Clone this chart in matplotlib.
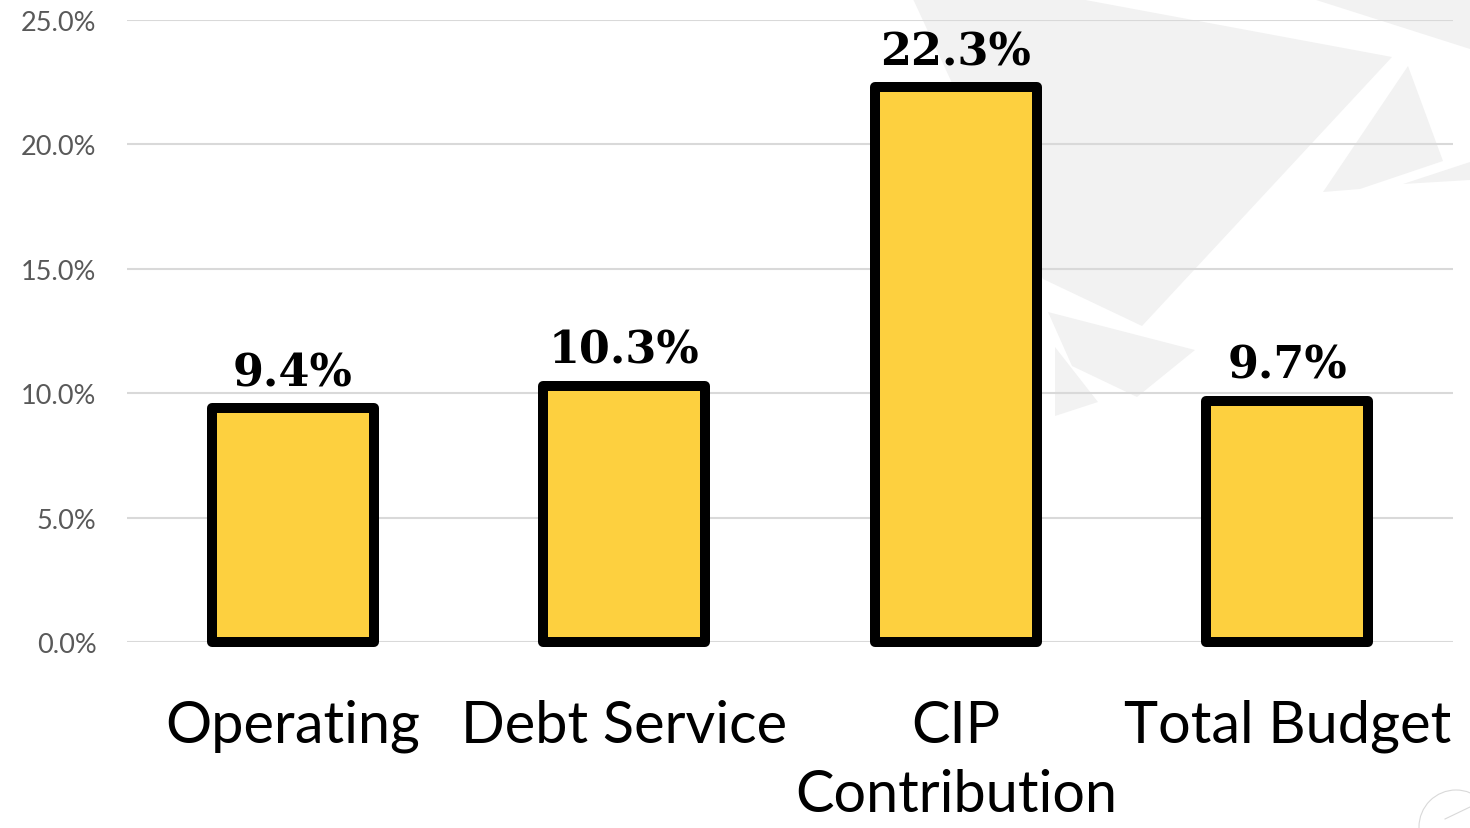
import matplotlib
matplotlib.use("Agg")
import matplotlib.pyplot as plt
from matplotlib.patches import Polygon, Circle
from matplotlib.ticker import FuncFormatter

categories = ["Operating", "Debt Service", "CIP\nContribution", "Total Budget"]
values = [9.4, 10.3, 22.3, 9.7]
yticks = [0, 5, 10, 15, 20, 25]

W, H = 1470, 829
fig = plt.figure(figsize=(W / 100, H / 100), dpi=100)

# light decorative shapes in the background (pixel coords)
bg = fig.add_axes([0, 0, 1, 1], zorder=0)
bg.set_xlim(0, W)
bg.set_ylim(H, 0)
bg.axis("off")
shapes = [
    [(913, 0), (1080, 0), (1392, 58), (1142, 327), (1043, 280)],
    [(1195, 0), (1313, 0), (1470, 50), (1470, 0)],
    [(1408, 67), (1443, 162), (1360, 190), (1323, 193)],
    [(1403, 185), (1470, 163), (1470, 181)],
    [(1048, 313), (1195, 351), (1137, 398), (1072, 367)],
    [(1055, 348), (1098, 403), (1055, 417)],
]
for pts in shapes:
    bg.add_patch(Polygon(pts, closed=True, facecolor="#F2F2F2", edgecolor="none"))
bg.add_patch(Circle((1456, 828), 37, facecolor="none", edgecolor="#D9D9D9", lw=0.8))
bg.plot([1445, 1470], [820, 808], color="#D9D9D9", lw=0.8)

ax = fig.add_axes([127 / W, 1 - 643 / H, (1453 - 127) / W, (643 - 21) / H], zorder=1)
ax.patch.set_alpha(0)

x = range(len(categories))
ax.bar(x, values, width=0.49, color="#FDD03F", edgecolor="black",
       linewidth=7.2, joinstyle="round", clip_on=False, zorder=3)

for xi, v in zip(x, values):
    ax.annotate(f"{v:.1f}%", (xi, v), xytext=(0, 16.5), textcoords="offset points",
                ha="center", va="baseline", fontsize=32, fontweight="bold",
                family="DejaVu Serif", color="black", zorder=4)

ax.set_xlim(-0.5, len(categories) - 0.5)
ax.set_ylim(0, 25)
ax.set_yticks(yticks)
ax.yaxis.set_major_formatter(FuncFormatter(lambda v, p: f"{v:.1f}%"))
ax.set_xticks(list(x))
ax.set_xticklabels(categories, fontsize=41.5, family="Lato", color="black", linespacing=1.38)
ax.tick_params(axis="x", length=0, pad=41)
ax.tick_params(axis="y", length=0, pad=22, labelsize=19.5, labelcolor="#595959")
for lab in ax.get_yticklabels():
    lab.set_family("Lato")

ax.grid(axis="y", color="#D9D9D9", linewidth=1.5, zorder=0)
ax.set_axisbelow(True)
for s in ax.spines.values():
    s.set_visible(False)

fig.savefig("out.png", dpi=100)
